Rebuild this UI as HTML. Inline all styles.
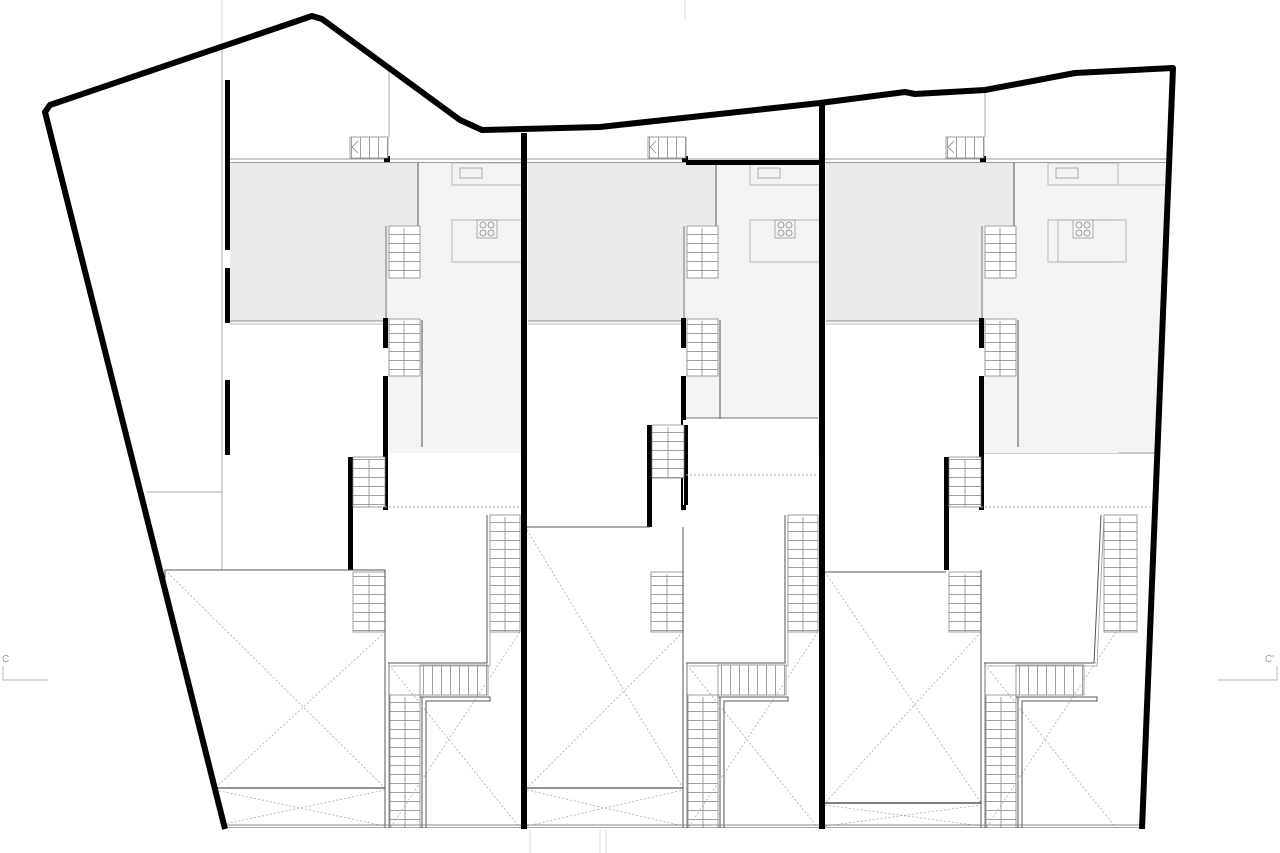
<!DOCTYPE html>
<html><head><meta charset="utf-8"><style>html,body{margin:0;padding:0;background:#fff}svg{display:block}</style></head><body>
<svg width="1280" height="853" viewBox="0 0 1280 853" xmlns="http://www.w3.org/2000/svg">
<defs>
<pattern id="th" width="10" height="9" patternUnits="userSpaceOnUse"><rect width="10" height="9" fill="#fff"/><line x1="0" y1="0.5" x2="10" y2="0.5" stroke="#888" stroke-width="0.8"/></pattern>
<pattern id="tv" width="9" height="10" patternUnits="userSpaceOnUse"><rect width="9" height="10" fill="#fff"/><line x1="0.5" y1="0" x2="0.5" y2="10" stroke="#888" stroke-width="0.8"/></pattern>
<clipPath id="site"><polygon points="50,105 312,16 322,19 460,120 482,130 600,127 820,103 905,92 915,94 985,90 1075,73 1173,68 1142,828 225,828 45,112"/></clipPath>
<g id="top">
  <rect x="230" y="163" width="188" height="158" fill="#ebebeb"/>
  <rect x="418" y="163" width="104" height="290" fill="#f4f4f4"/>
  <rect x="388" y="225" width="32" height="228" fill="#f4f4f4"/>
  <line x1="228" y1="159" x2="522" y2="159" stroke="#999" stroke-width="1"/>
  <line x1="228" y1="162.5" x2="522" y2="162.5" stroke="#999" stroke-width="1"/>
  <rect x="384" y="156" width="6" height="6" fill="#000"/>
  <rect x="350" y="137" width="38" height="21" fill="url(#tv)" stroke="#888" stroke-width="0.8"/>
  <path d="M358 141 L352 147 L358 153" fill="none" stroke="#888" stroke-width="0.8"/>
  <line x1="418" y1="163" x2="418" y2="226" stroke="#555" stroke-width="1"/>
  <rect x="452" y="163" width="70" height="22" fill="none" stroke="#aaa" stroke-width="0.8"/>
  <rect x="460" y="168" width="22" height="10" fill="none" stroke="#999" stroke-width="0.8"/>
  <rect x="452" y="220" width="70" height="42" fill="none" stroke="#aaa" stroke-width="0.8"/>
  <rect x="477" y="220" width="20" height="18" fill="none" stroke="#999" stroke-width="0.8"/>
  <circle cx="483" cy="225" r="3" fill="none" stroke="#888" stroke-width="0.8"/><circle cx="491" cy="225" r="3" fill="none" stroke="#888" stroke-width="0.8"/>
  <circle cx="483" cy="233" r="3" fill="none" stroke="#888" stroke-width="0.8"/><circle cx="491" cy="233" r="3" fill="none" stroke="#888" stroke-width="0.8"/>
  <rect x="389" y="226" width="31" height="52" fill="url(#th)" stroke="#888" stroke-width="0.8"/>
  <line x1="404" y1="228" x2="404" y2="278" stroke="#888" stroke-width="0.8"/>
  <rect x="389" y="319" width="31" height="57" fill="url(#th)" stroke="#888" stroke-width="0.8"/>
  <line x1="404" y1="321" x2="404" y2="376" stroke="#888" stroke-width="0.8"/>
  <line x1="386" y1="226" x2="386" y2="318" stroke="#777" stroke-width="1"/>
  <line x1="230" y1="321" x2="386" y2="321" stroke="#888" stroke-width="1"/>
  <line x1="230" y1="324" x2="386" y2="324" stroke="#bbb" stroke-width="1"/>
  <line x1="422" y1="320" x2="422" y2="447" stroke="#555" stroke-width="1"/>
  <rect x="383" y="318" width="5" height="30" fill="#000"/>
  <rect x="383" y="376" width="5" height="134" fill="#000"/>
</g>
<g id="lowA">
  <rect x="348" y="457" width="5" height="113" fill="#000"/>
  <rect x="353" y="457" width="32" height="50" fill="url(#th)" stroke="#888" stroke-width="0.8"/>
  <line x1="369" y1="459" x2="369" y2="507" stroke="#888" stroke-width="0.8"/>
  <line x1="385" y1="507" x2="520" y2="507" stroke="#aaa" stroke-width="1" stroke-dasharray="2,2"/>
  <rect x="353" y="572" width="32" height="60" fill="url(#th)" stroke="#888" stroke-width="0.8"/>
  <line x1="369" y1="574" x2="369" y2="632" stroke="#888" stroke-width="0.8"/>
  <line x1="385" y1="570" x2="385" y2="828" stroke="#555" stroke-width="1"/>
  <line x1="389" y1="663" x2="389" y2="828" stroke="#777" stroke-width="1"/>
  <rect x="420" y="665" width="68" height="30" fill="url(#tv)" stroke="#888" stroke-width="0.8"/>
  <line x1="422" y1="697" x2="422" y2="828" stroke="#555" stroke-width="1"/>
  <rect x="390" y="695" width="30" height="133" fill="url(#th)" stroke="#888" stroke-width="0.8"/>
  <line x1="405" y1="697" x2="405" y2="828" stroke="#888" stroke-width="0.8"/>
  <line x1="520" y1="632" x2="390" y2="828" stroke="#aaa" stroke-width="0.8" stroke-dasharray="2,2"/>
  <line x1="389" y1="665" x2="520" y2="828" stroke="#aaa" stroke-width="0.8" stroke-dasharray="2,2"/>
</g>
<g id="lowB">
  <rect x="490" y="515" width="30" height="117" fill="url(#th)" stroke="#888" stroke-width="0.8"/>
  <line x1="505" y1="517" x2="505" y2="632" stroke="#888" stroke-width="0.8"/>
  <polyline points="487,515 487,663 388,663" fill="none" stroke="#555" stroke-width="1"/>
  <polyline points="490,515 490,666 391,666" fill="none" stroke="#999" stroke-width="0.8"/>
  <polyline points="420,697 490,697 490,701 426,701 426,828" fill="none" stroke="#555" stroke-width="1"/>
</g>
</defs>

<text x="2" y="662" font-family="Liberation Sans, sans-serif" font-size="10" fill="#999">C</text>
<polyline points="3,666 3,680 48,680" fill="none" stroke="#bbb" stroke-width="1"/>
<text x="1265" y="662" font-family="Liberation Sans, sans-serif" font-size="10" fill="#999">C'</text>
<polyline points="1277,666 1277,680 1218,680" fill="none" stroke="#bbb" stroke-width="1"/>
<line x1="222" y1="0" x2="222" y2="50" stroke="#ddd"/>
<line x1="685" y1="0" x2="685" y2="20" stroke="#ddd"/>
<line x1="530" y1="830" x2="530" y2="853" stroke="#ddd"/><line x1="600" y1="830" x2="600" y2="853" stroke="#ddd"/><line x1="606" y1="830" x2="606" y2="853" stroke="#ddd"/>

<g clip-path="url(#site)">
  <!-- unit 3 extension to the sloped wall -->
  <rect x="1110" y="163" width="70" height="290" fill="#f4f4f4"/>
  <line x1="1110" y1="159" x2="1180" y2="159" stroke="#999" stroke-width="1"/>
  <line x1="1110" y1="162.5" x2="1180" y2="162.5" stroke="#999" stroke-width="1"/>
  <line x1="1110" y1="185" x2="1180" y2="185" stroke="#aaa" stroke-width="0.8"/>
  <rect x="1058" y="220" width="68" height="42" fill="none" stroke="#aaa" stroke-width="0.8"/>
  <line x1="980" y1="453" x2="1180" y2="453" stroke="#999" stroke-width="1"/>
  <use href="#top"/>
  <use href="#top" transform="translate(298,0)"/>
  <use href="#top" transform="translate(596,0)"/>
  <rect x="1117" y="219" width="12" height="44" fill="#f4f4f4"/>
  <rect x="1058" y="220" width="68" height="42" fill="none" stroke="#aaa" stroke-width="0.8"/>
  <!-- unit 1 -->
  <line x1="222" y1="50" x2="222" y2="570" stroke="#aaa" stroke-width="1"/>
  <line x1="389" y1="70" x2="389" y2="137" stroke="#aaa" stroke-width="1"/>
  <line x1="147" y1="492" x2="222" y2="492" stroke="#aaa" stroke-width="1"/>
  <rect x="225" y="80" width="5" height="170" fill="#000"/>
  <rect x="225" y="268" width="5" height="55" fill="#000"/>
  <rect x="225" y="380" width="5" height="75" fill="#000"/>
  <use href="#lowA"/>
  <use href="#lowB"/>
  <rect x="165" y="570" width="220" height="258" fill="none" stroke="#555" stroke-width="1"/>
  <line x1="165" y1="570" x2="385" y2="788" stroke="#aaa" stroke-width="0.8" stroke-dasharray="2,2"/>
  <line x1="385" y1="632" x2="215" y2="788" stroke="#aaa" stroke-width="0.8" stroke-dasharray="2,2"/>
  <line x1="165" y1="788" x2="385" y2="788" stroke="#555" stroke-width="1.2"/>
  <line x1="215" y1="790" x2="385" y2="826" stroke="#aaa" stroke-width="0.8" stroke-dasharray="2,2"/>
  <line x1="215" y1="826" x2="385" y2="790" stroke="#aaa" stroke-width="0.8" stroke-dasharray="2,2"/>
  <!-- unit 2 -->
  <rect x="686" y="160" width="136" height="5" fill="#000"/>
  <rect x="687" y="419" width="131" height="36" fill="#fff"/>
  <line x1="686" y1="418" x2="818" y2="418" stroke="#777" stroke-width="1"/>
  <rect x="683" y="420" width="5" height="85" fill="#fff"/>
  <rect x="684" y="425" width="4" height="80" fill="#000"/>
  <rect x="647" y="425" width="5" height="102" fill="#000"/>
  <rect x="652" y="425" width="32" height="53" fill="url(#th)" stroke="#888" stroke-width="0.8"/>
  <line x1="668" y1="427" x2="668" y2="478" stroke="#888" stroke-width="0.8"/>
  <line x1="527" y1="527" x2="650" y2="527" stroke="#555" stroke-width="1"/>
  <line x1="686" y1="475" x2="818" y2="475" stroke="#aaa" stroke-width="1" stroke-dasharray="2,2"/>
  <g transform="translate(298,0)">
    <use href="#lowB"/>
    <rect x="353" y="572" width="32" height="60" fill="url(#th)" stroke="#888" stroke-width="0.8"/>
    <line x1="369" y1="574" x2="369" y2="632" stroke="#888" stroke-width="0.8"/>
    <line x1="385" y1="527" x2="385" y2="828" stroke="#555" stroke-width="1"/>
    <line x1="389" y1="663" x2="389" y2="828" stroke="#777" stroke-width="1"/>
    <rect x="420" y="665" width="68" height="30" fill="url(#tv)" stroke="#888" stroke-width="0.8"/>
    <line x1="422" y1="697" x2="422" y2="828" stroke="#555" stroke-width="1"/>
    <rect x="390" y="695" width="30" height="133" fill="url(#th)" stroke="#888" stroke-width="0.8"/>
    <line x1="405" y1="697" x2="405" y2="828" stroke="#888" stroke-width="0.8"/>
    <line x1="520" y1="632" x2="390" y2="828" stroke="#aaa" stroke-width="0.8" stroke-dasharray="2,2"/>
    <line x1="389" y1="665" x2="520" y2="828" stroke="#aaa" stroke-width="0.8" stroke-dasharray="2,2"/>
  </g>
  <line x1="527" y1="530" x2="683" y2="788" stroke="#aaa" stroke-width="0.8" stroke-dasharray="2,2"/>
  <line x1="683" y1="632" x2="527" y2="788" stroke="#aaa" stroke-width="0.8" stroke-dasharray="2,2"/>
  <line x1="527" y1="788" x2="683" y2="788" stroke="#555" stroke-width="1.2"/>
  <line x1="527" y1="790" x2="683" y2="826" stroke="#aaa" stroke-width="0.8" stroke-dasharray="2,2"/>
  <line x1="527" y1="826" x2="683" y2="790" stroke="#aaa" stroke-width="0.8" stroke-dasharray="2,2"/>
  <!-- unit 3 -->
  <line x1="985" y1="85" x2="985" y2="137" stroke="#aaa" stroke-width="1"/>
  <line x1="981" y1="507" x2="1150" y2="507" stroke="#aaa" stroke-width="1" stroke-dasharray="2,2"/>
  <use href="#lowA" transform="translate(596,0)"/>
  <rect x="1104" y="515" width="33" height="117" fill="url(#th)" stroke="#888" stroke-width="0.8"/>
  <line x1="1120" y1="517" x2="1120" y2="632" stroke="#888" stroke-width="0.8"/>
  <polyline points="1101,515 1094,663 984,663" fill="none" stroke="#555" stroke-width="1"/>
  <polyline points="1104,515 1097,666 987,666" fill="none" stroke="#999" stroke-width="0.8"/>
  <polyline points="1016,697 1097,697 1097,701 1022,701 1022,828" fill="none" stroke="#555" stroke-width="1"/>
  <line x1="825" y1="572" x2="946" y2="572" stroke="#555" stroke-width="1"/>
  <line x1="825" y1="572" x2="981" y2="803" stroke="#aaa" stroke-width="0.8" stroke-dasharray="2,2"/>
  <line x1="981" y1="632" x2="825" y2="803" stroke="#aaa" stroke-width="0.8" stroke-dasharray="2,2"/>
  <line x1="825" y1="803" x2="981" y2="803" stroke="#555" stroke-width="1.5"/>
  <line x1="825" y1="805" x2="981" y2="826" stroke="#aaa" stroke-width="0.8" stroke-dasharray="2,2"/>
  <line x1="825" y1="826" x2="981" y2="805" stroke="#aaa" stroke-width="0.8" stroke-dasharray="2,2"/>
  <line x1="225" y1="825" x2="1142" y2="825" stroke="#888" stroke-width="1"/>
  <line x1="225" y1="828" x2="1142" y2="828" stroke="#555" stroke-width="1"/>
</g>
<rect x="521" y="133" width="6" height="696" fill="#000"/>
<rect x="819" y="105" width="6" height="724" fill="#000"/>
<polyline points="225,829 45,112 50,105 312,16 322,19 460,120 482,130 600,127 820,103 905,92 915,94 985,90 1075,73 1173,68 1142,829" fill="none" stroke="#000" stroke-width="6" stroke-linejoin="round"/>
</svg>
</body></html>
